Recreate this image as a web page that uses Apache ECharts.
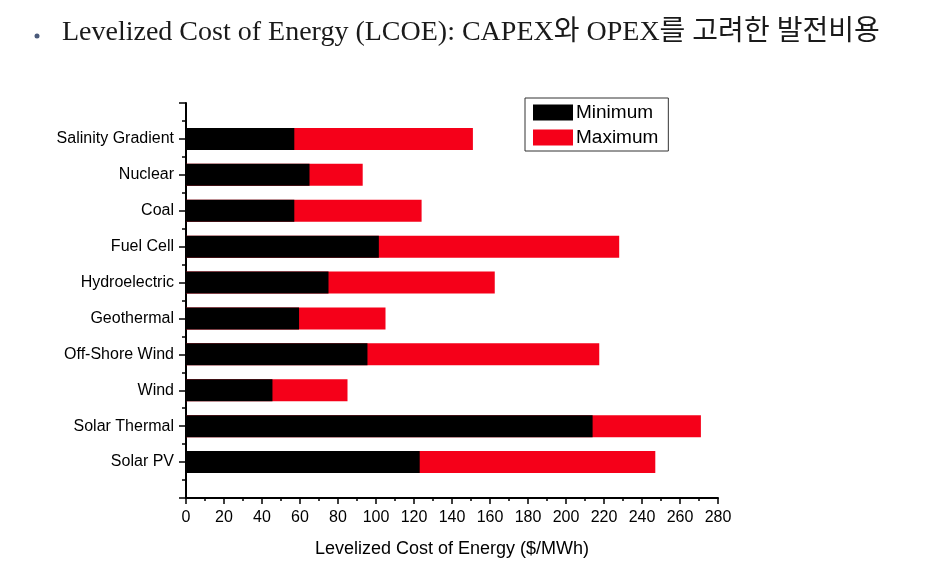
<!DOCTYPE html>
<html><head><meta charset="utf-8">
<script src="https://cdn.jsdelivr.net/npm/echarts@6/dist/echarts.min.js"></script>
<style>html,body{margin:0;padding:0;background:#fff}#c{width:940px;height:574px}</style>
</head><body><div id="c"></div>
<script>
const categories = ['Salinity Gradient','Nuclear','Coal','Fuel Cell','Hydroelectric','Geothermal','Off-Shore Wind','Wind','Solar Thermal','Solar PV'];
const minimum = [57, 65, 57, 101.5, 75, 59.5, 95.5, 45.5, 214, 123];
const maximum = [151, 93, 124, 228, 162.5, 105, 217.5, 85, 271, 247];
const xTicks = [0, 280, 20];

// category axis is drawn bottom-to-top, padded with an empty slot at each end
const cats = [''].concat(categories.slice().reverse(), ['']);
const minData = [null].concat(minimum.slice().reverse(), [null]);
const maxData = [null].concat(maximum.slice().reverse(), [null]);

const font = "'Liberation Sans', Arial, sans-serif";
const chart = echarts.init(document.getElementById('c'));
chart.setOption({
  animation: false,
  backgroundColor: '#fff',
  graphic: [
    { type: 'circle', shape: { cx: 37, cy: 36, r: 2.5 }, style: { fill: '#4a5a7a' } },
    { type: 'text', left: 62, top: 19, style: { text: 'Levelized Cost of Energy (LCOE): CAPEX와 OPEX를 고려한 발전비용', font: "28px 'Liberation Serif', 'Noto Sans CJK KR', serif", fill: '#1a1a1a' } }
  ],
  legend: {
    left: 525, top: 98, orient: 'vertical',
    data: ['Minimum', 'Maximum'],
    itemWidth: 40, itemHeight: 16, itemGap: 6,
    padding: [5, 10, 4, 8],
    borderColor: '#333', borderWidth: 1,
    textStyle: { fontFamily: font, fontSize: 19, color: '#000', padding: [0, 0, 0, -2] },
    icon: 'rect'
  },
  grid: { left: 186, right: 222, top: 103, bottom: 76, containLabel: false },
  xAxis: {
    type: 'value', min: xTicks[0], max: xTicks[1], interval: xTicks[2],
    name: 'Levelized Cost of Energy ($/MWh)', nameLocation: 'middle', nameGap: 42,
    nameTextStyle: { fontFamily: font, fontSize: 18, color: '#000' },
    axisLine: { show: true, lineStyle: { color: '#000', width: 2 } },
    axisTick: { show: true, inside: false, length: 6, lineStyle: { color: '#000', width: 1.5 } },
    minorTick: { show: true, splitNumber: 2, length: 3, lineStyle: { color: '#000', width: 1.5 } },
    axisLabel: { fontFamily: font, fontSize: 16, color: '#000', margin: 12 },
    splitLine: { show: false }
  },
  yAxis: [
    {
      type: 'category', data: cats, boundaryGap: false,
      axisLine: { show: true, lineStyle: { color: '#000', width: 2 } },
      axisTick: { show: false },
      axisLabel: { fontFamily: font, fontSize: 16, color: '#000', margin: 12, interval: 0 },
      splitLine: { show: false }
    },
    {
      type: 'value', min: 0, max: 11, interval: 1, position: 'left',
      axisLine: { show: false },
      axisTick: { show: true, length: 7, lineStyle: { color: '#000', width: 1.5 } },
      minorTick: { show: true, splitNumber: 2, length: 4, lineStyle: { color: '#000', width: 1.5 } },
      axisLabel: { show: false },
      splitLine: { show: false }
    }
  ],
  series: [
    { name: 'Maximum', type: 'bar', yAxisIndex: 0, data: maxData, barWidth: 22, barGap: '-100%', itemStyle: { color: '#f50019' }, z: 2 },
    { name: 'Minimum', type: 'bar', yAxisIndex: 0, data: minData, barWidth: 22, barGap: '-100%', itemStyle: { color: '#000' }, z: 3 }
  ]
});
</script></body></html>
